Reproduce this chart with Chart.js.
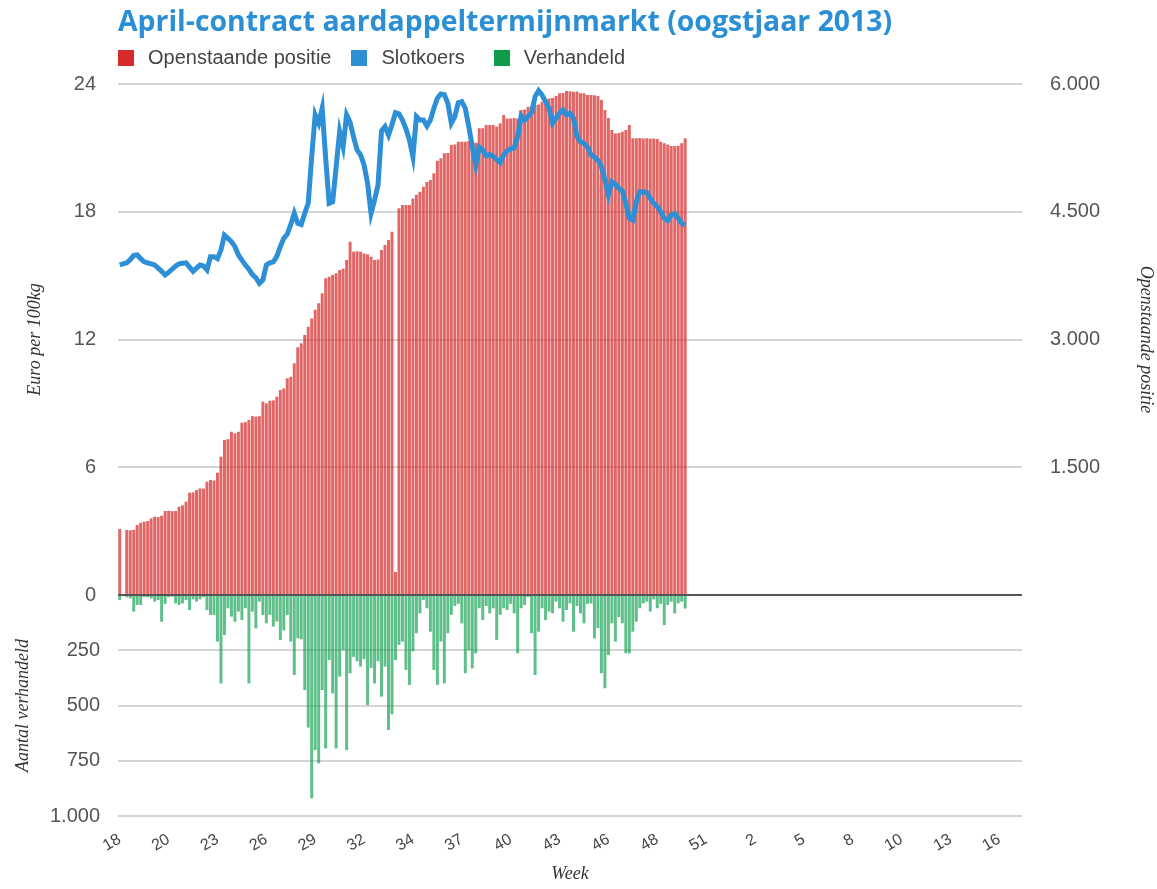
<!DOCTYPE html>
<html lang="nl">
<head>
    <meta charset="UTF-8">
    <title>April-contract aardappeltermijnmarkt (oogstjaar 2013)</title>
    <script src="https://cdn.jsdelivr.net/npm/chart.js"></script>
    <style>
        body {
            margin: 0;
            background: #fff;
            font-family: "Liberation Sans", Arial, sans-serif;
        }
        #wrap {
            position: relative;
            width: 1157px;
            height: 889px;
            overflow: hidden;
        }
        h1 {
            position: absolute;
            left: 118px;
            top: 1px;
            margin: 0;
            font: bold 28.4px "Open Sans", sans-serif;
            color: #2b8fd5;
            white-space: nowrap;
        }
        .legend {
            position: absolute;
            left: 118px;
            top: 46px;
            display: flex;
            font-size: 20px;
            color: #444;
        }
        .legend span {
            display: flex;
            align-items: center;
        }
        .legend i {
            display: inline-block;
            width: 16px;
            height: 16px;
            margin-right: 14px;
        }
        canvas {
            position: absolute;
            left: 0;
        }
        #topChart { top: 0; }
        #bottomChart { top: 565px; }
    </style>
</head>
<body>
<div id="wrap">
    <canvas id="topChart" width="1157" height="629"></canvas>
    <canvas id="bottomChart" width="1157" height="324"></canvas>
    <h1>April-contract aardappeltermijnmarkt (oogstjaar 2013)</h1>
    <div class="legend">
        <span style="margin-right:20px"><i style="background:#d62b2b"></i>Openstaande positie</span>
        <span style="margin-right:29px"><i style="background:#2d8fd5"></i>Slotkoers</span>
        <span><i style="background:#0f9d4a"></i>Verhandeld</span>
    </div>
</div>

<script>
    // week numbers shown on the x axis, one every 14 trading days
    const weekTicks = [18, 20, 23, 26, 29, 32, 34, 37, 40, 43, 46, 48, 51, 2, 5, 8, 10, 13, 16];
    const daysPerTick = 14;
    const totalDays = 259;

    // closing price, euro per 100kg
    const slotkoers = [
        15.5, null, 15.6, 15.75, 15.95, 15.97, 15.8, 15.65, 15.6, 15.55,
        15.5, 15.35, 15.2, 15.03, 15.15, 15.3, 15.45, 15.55, 15.58, 15.6,
        15.4, 15.2, 15.35, 15.5, 15.45, 15.27, 15.89, 15.89, 15.8, 16.2,
        16.9, 16.75, 16.6, 16.36, 15.97, 15.73, 15.5, 15.3, 15.05, 14.9,
        14.64, 14.8, 15.5, 15.6, 15.65, 15.9, 16.36, 16.75, 16.95, 17.4,
        17.93, 17.46, 17.4, 17.93, 18.4, 20.6, 22.55, 22.16, 22.86, 20.5,
        18.4, 18.47, 20.1, 21.76, 21.06, 22.55, 22.2, 21.5, 20.9, 20.67,
        20.2, 19.34, 17.93, 18.55, 19.26, 21.8, 22.0, 21.6, 22.1, 22.65,
        22.6, 22.31, 21.9, 21.37, 20.59, 22.47, 22.31, 22.31, 22.03, 22.31,
        22.86, 23.33, 23.53, 23.5, 23.09, 22.16, 22.47, 23.12, 23.17, 22.86,
        22.0, 21.06, 20.2, 21.03, 20.9, 20.62, 20.7, 20.59, 20.46, 20.31,
        20.67, 20.87, 20.95, 21.0, 21.53, 22.5, 22.31, 22.47, 22.66, 23.41,
        23.69, 23.48, 23.17, 22.86, 22.16, 22.39, 22.63, 22.78, 22.55, 22.63,
        22.39, 21.53, 21.29, 21.22, 21.03, 20.67, 20.56, 20.43, 20.12, 19.5,
        18.8, 19.41, 19.3, 19.1, 18.98, 18.4, 17.69, 17.61, 18.47, 18.94,
        18.94, 18.9, 18.63, 18.4, 18.24, 18.0, 17.69, 17.58, 17.85, 17.9,
        17.69, 17.46, 17.38
    ];

    // open interest (contracts)
    const openPositie = [
        775, null, 763, 760, 765, 822, 849, 860, 869, 900,
        919, 915, 931, 986, 990, 985, 986, 1037, 1053, 1096,
        1201, 1205, 1233, 1252, 1250, 1330, 1350, 1345, 1436, 1624,
        1820, 1830, 1917, 1898, 1917, 2023, 2030, 2055, 2101, 2095,
        2100, 2269, 2250, 2281, 2285, 2328, 2407, 2426, 2544, 2563,
        2720, 2908, 2955, 3052, 3150, 3248, 3350, 3425, 3542, 3718,
        3737, 3760, 3777, 3816, 3830, 3933, 4148, 4030, 4035, 4030,
        4011, 4000, 3972, 3933, 3940, 4050, 4109, 4168, 4265, 270,
        4540, 4580, 4580, 4580, 4657, 4700, 4735, 4794, 4850, 4872,
        4951, 5100, 5127, 5186, 5190, 5283, 5290, 5322, 5322, 5322,
        5330, 5310, 5310, 5479, 5480, 5518, 5518, 5520, 5500, 5538,
        5635, 5596, 5596, 5600, 5596, 5694, 5700, 5733, 5735, 5753,
        5760, 5792, 5795, 5831, 5835, 5858, 5890, 5895, 5917, 5915,
        5909, 5912, 5890, 5890, 5870, 5872, 5868, 5860, 5811, 5694,
        5600, 5459, 5420, 5425, 5440, 5460, 5518, 5362, 5362, 5365,
        5360, 5362, 5358, 5360, 5355, 5322, 5303, 5290, 5271, 5271,
        5275, 5303, 5362
    ];

    // traded contracts per day
    const verhandeld = [
        23, null, 10, 15, 75, 45, 45, 10, 10, 15,
        30, 23, 121, 40, 10, 8, 38, 45, 38, 23,
        68, 20, 30, 20, 10, 68, 90, 90, 211, 400,
        181, 60, 98, 121, 75, 113, 60, 400, 75, 151,
        30, 90, 128, 90, 143, 120, 204, 160, 90, 211,
        362, 196, 200, 430, 600, 920, 702, 762, 430, 694,
        294, 445, 694, 369, 250, 702, 354, 280, 300, 324,
        290, 498, 330, 400, 300, 460, 324, 611, 540, 294,
        226, 211, 339, 407, 255, 173, 83, 22, 60, 166,
        339, 407, 211, 400, 173, 90, 50, 40, 128, 354,
        250, 332, 264, 60, 113, 50, 83, 60, 203, 90,
        60, 68, 40, 83, 264, 60, 45, 10, 173, 362,
        166, 60, 113, 75, 83, 30, 60, 121, 68, 38,
        166, 50, 83, 128, 40, 38, 196, 150, 354, 422,
        272, 128, 211, 100, 128, 264, 264, 166, 121, 60,
        38, 30, 75, 20, 60, 40, 136, 45, 30, 83,
        38, 30, 61
    ];

    const labels = Array.from({ length: totalDays }, (_, i) =>
        i % daysPerTick === 0 ? String(weekTicks[i / daysPerTick]) : '');

    const fmt = v => String(v).replace(/\B(?=(\d{3})+(?!\d))/g, '.');
    const tickFont = { family: '"Liberation Sans", Arial, sans-serif', size: 20 };
    const titleFont = { family: '"Liberation Serif", serif', style: 'italic', size: 18 };
    const gridColor = c => c.tick.value === 0 ? '#555' : '#d5d5d5';

    // price + open interest
    new Chart(document.getElementById('topChart'), {
        type: 'bar',
        data: {
            labels: labels,
            datasets: [
                {
                    type: 'line',
                    label: 'Slotkoers',
                    data: slotkoers,
                    yAxisID: 'y',
                    borderColor: '#2d8fd5',
                    borderWidth: 5,
                    pointRadius: 0,
                    spanGaps: true,
                    order: 1
                },
                {
                    label: 'Openstaande positie',
                    data: openPositie,
                    yAxisID: 'y1',
                    backgroundColor: 'rgba(214, 43, 43, 0.72)',
                    barPercentage: 0.85,
                    categoryPercentage: 1,
                    order: 2
                }
            ]
        },
        options: {
            responsive: false,
            animation: false,
            layout: { padding: { top: 84, bottom: 15, left: 20, right: 0 } },
            plugins: { legend: { display: false }, tooltip: { enabled: false } },
            scales: {
                x: { display: false },
                y: {
                    position: 'left',
                    min: 0,
                    max: 24,
                    ticks: { stepSize: 6, color: '#555', font: tickFont, padding: 22 },
                    grid: { color: gridColor, lineWidth: 2, drawTicks: false },
                    border: { display: false },
                    title: { display: true, text: 'Euro per 100kg', color: '#333', font: titleFont },
                    afterFit: s => { s.width = 98; }
                },
                y1: {
                    position: 'right',
                    min: 0,
                    max: 6000,
                    ticks: {
                        stepSize: 1500, color: '#555', font: tickFont, padding: 20,
                        callback: v => v === 0 ? '' : fmt(v)
                    },
                    grid: { display: false },
                    border: { display: false },
                    title: { display: true, text: 'Openstaande positie', color: '#333', font: titleFont, padding: 0 },
                    afterFit: s => { s.width = 135; }
                }
            }
        }
    });

    // volume, drawn downwards
    new Chart(document.getElementById('bottomChart'), {
        type: 'bar',
        data: {
            labels: labels,
            datasets: [{
                label: 'Verhandeld',
                data: verhandeld,
                backgroundColor: 'rgba(18, 160, 80, 0.68)',
                barPercentage: 0.85,
                categoryPercentage: 1
            }]
        },
        options: {
            responsive: false,
            animation: false,
            layout: { padding: { top: 12, bottom: 0, left: 8, right: 135 } },
            plugins: { legend: { display: false }, tooltip: { enabled: false } },
            scales: {
                x: {
                    ticks: {
                        autoSkip: false, minRotation: 30, maxRotation: 30, padding: 14,
                        color: '#444', font: { family: '"Liberation Sans", Arial, sans-serif', size: 16 }
                    },
                    grid: { display: false, drawTicks: false },
                    border: { display: false },
                    title: { display: true, text: 'Week', color: '#333', font: titleFont },
                    afterFit: s => { s.height = 73; }
                },
                y: {
                    reverse: true,
                    min: 0,
                    max: 1000,
                    // the 0 is already labelled by the upper chart
                    ticks: { stepSize: 250, color: '#555', font: tickFont, padding: 18, callback: v => v === 0 ? '' : fmt(v) },
                    grid: { color: gridColor, lineWidth: 2, drawTicks: false },
                    border: { display: false },
                    title: { display: true, text: 'Aantal verhandeld', color: '#333', font: titleFont },
                    afterFit: s => { s.width = 110; }
                }
            }
        }
    });
</script>
</body>
</html>
